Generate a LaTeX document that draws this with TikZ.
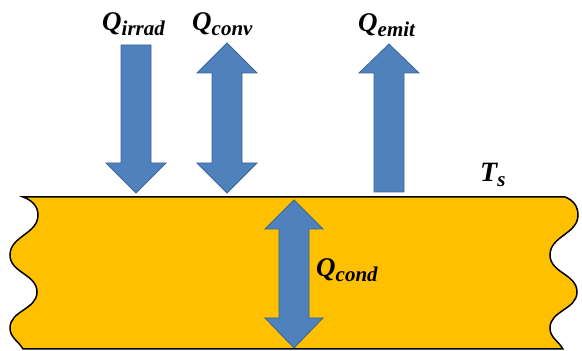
\documentclass[tikz,border=0pt]{standalone}
\usepackage{fontspec}
\setmainfont{Liberation Serif}
\definecolor{slabfill}{HTML}{FFC000}
\definecolor{arrfill}{HTML}{4F81BD}
\definecolor{arrline}{HTML}{3A6596}
\newcommand{\flowlbl}[2]{\fontsize{27}{27}\selectfont\bfseries\itshape #1\raisebox{-5pt}{\fontsize{21}{21}\selectfont #2}}
\begin{document}
\begin{tikzpicture}[x=1pt,y=1pt,
  blockarrow/.style={fill=arrfill,draw=arrline,line width=0.8pt,line join=miter},
  slab/.style={fill=slabfill,draw=black,line width=1.5pt},
  lbl/.style={inner sep=0pt,anchor=base west}]
\useasboundingbox (0,0) rectangle (582,351);
% slab
\path[slab] (23,154) -- (565,154)
  to[out=-20,in=90] (578,136) to[out=-90,in=90] (550,96)
  to[out=-90,in=90] (577,59) to[out=-90,in=90] (550,23)
  to[out=-90,in=120] (563,2) -- (23,2)
  to[out=120,in=-90] (10,23) to[out=90,in=-90] (37,59)
  to[out=90,in=-90] (10,96) to[out=90,in=-90] (38,136)
  to[out=90,in=-20] (23,154) -- cycle;
% Q_irrad arrow (down)
\path[blockarrow] (121,306) -- (151,306) -- (151,188) -- (166,188) -- (136,158)
  -- (106,188) -- (121,188) -- cycle;
% Q_conv arrow (double)
\path[blockarrow] (227,308) -- (257,278) -- (242,278) -- (242,188) -- (257,188)
  -- (227,158) -- (197,188) -- (212,188) -- (212,278) -- (197,278) -- cycle;
% Q_emit arrow (up)
\path[blockarrow] (389,307) -- (419,278) -- (404,278) -- (404,159) -- (374,159)
  -- (374,278) -- (359,278) -- cycle;
% Q_cond arrow (double)
\path[blockarrow] (294,151) -- (323,122) -- (309,122) -- (309,33) -- (323,33)
  -- (294,3) -- (265,33) -- (279,33) -- (279,122) -- (265,122) -- cycle;
% labels
\node[lbl] (irrad) at (102,320) {\flowlbl{Q}{irrad}};
\node[lbl] (conv) at (192,320) {\flowlbl{Q}{conv}};
\node[lbl] (emit) at (358,319) {\flowlbl{Q}{emit}};
\node[lbl] (cond) at (316,74) {\flowlbl{Q}{cond}};
\node[lbl] (ts) at (480,169) {\fontsize{28}{28}\selectfont\bfseries\itshape T\raisebox{-5pt}{\fontsize{21}{21}\selectfont s}};
\end{tikzpicture}
\end{document}
